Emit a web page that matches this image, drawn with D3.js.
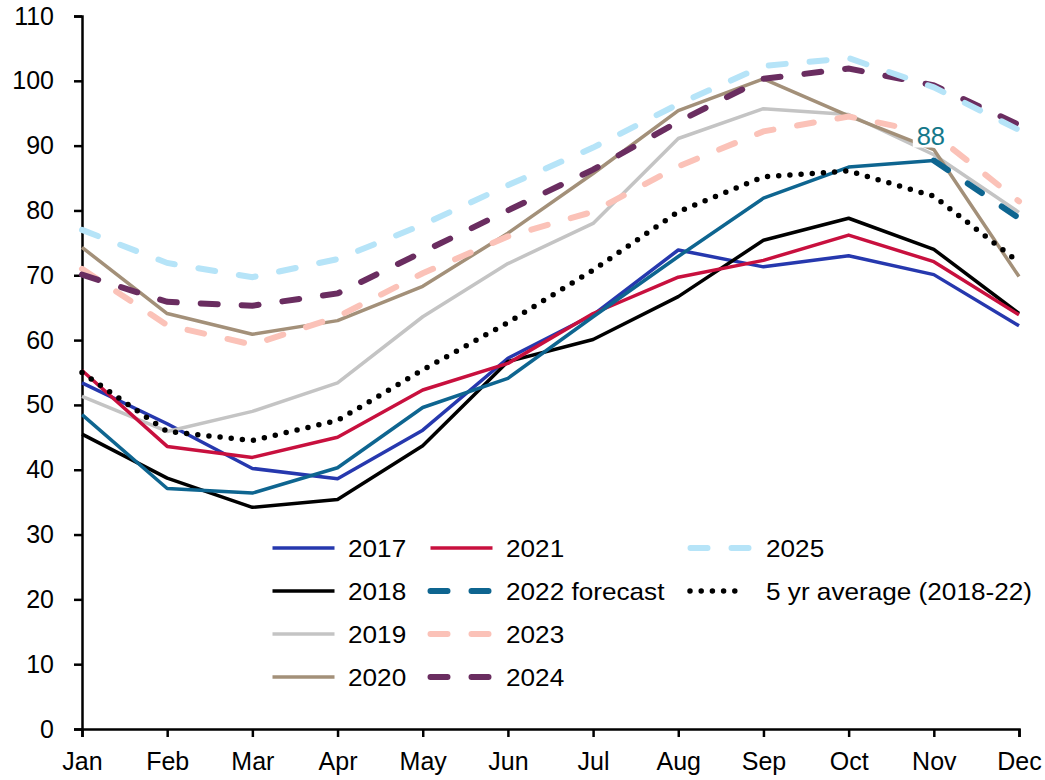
<!DOCTYPE html>
<html>
<head>
<meta charset="utf-8">
<script src="https://cdn.jsdelivr.net/npm/d3@7"></script>
<style>
  html, body { margin: 0; padding: 0; background: #fff; }
  svg text { font-family: "Liberation Sans", Arial, sans-serif; fill: #000; }
</style>
</head>
<body>
<svg id="chart" width="1045" height="780"></svg>
<script>
const months = ["Jan","Feb","Mar","Apr","May","Jun","Jul","Aug","Sep","Oct","Nov","Dec"];
const yTicks = [0,10,20,30,40,50,60,70,80,90,100,110];

const y2017 = [53.4, 47.1, 40.2, 38.6, 46.1, 57.2, 63.9, 73.9, 71.3, 73.0, 70.1, 62.2];
const y2018 = [45.5, 38.7, 34.2, 35.4, 43.7, 56.7, 60.1, 66.7, 75.4, 78.8, 74.0, 64.1];
const y2019 = [51.3, 45.9, 49.0, 53.4, 63.6, 71.8, 78.0, 91.1, 95.7, 94.8, 88.6, 79.7];
const y2020 = [74.3, 64.1, 60.9, 63.0, 68.3, 76.5, 85.7, 95.4, 100.3, 94.6, 89.4, 69.8];
const y2021 = [55.3, 43.6, 41.9, 45.0, 52.3, 56.4, 64.1, 69.7, 72.3, 76.2, 72.1, 63.9];
const y2022 = [48.5, 37.1, 36.4, 40.3, 49.6, 54.1, 63.6, 72.9, 81.9, 86.7, 87.7, null];
const y2022f = [null, null, null, null, null, null, null, null, null, null, 87.7, 78.8];
const y2023 = [71.0, 62.3, 59.3, 63.6, 70.3, 76.0, 79.8, 86.8, 92.2, 94.5, 91.8, 81.4];
const y2024 = [70.1, 65.9, 65.3, 67.2, 73.6, 80.0, 86.3, 93.7, 100.3, 101.9, 99.3, 93.2];
const y2025 = [77.0, 71.9, 69.7, 72.5, 77.8, 83.9, 89.7, 96.4, 102.3, 103.5, 99.0, 92.4];
const avg5 = [55.0, 45.9, 44.5, 47.6, 55.4, 62.7, 70.8, 79.8, 85.2, 86.1, 82.2, 72.0];
const labelValue = 88;

const series = [
  {name: "2017", values: y2017, color: "#2638AE", style: "solid", col: 0, row: 0},
  {name: "2018", values: y2018, color: "#000000", style: "solid", col: 0, row: 1},
  {name: "2019", values: y2019, color: "#C4C4C4", style: "solid", col: 0, row: 2},
  {name: "2020", values: y2020, color: "#A39079", style: "solid", col: 0, row: 3},
  {name: "2021", values: y2021, color: "#C8103E", style: "solid", col: 1, row: 0},
  {name: null,   values: y2022, color: "#0E6590", style: "solid"},
  {name: "2022 forecast", values: y2022f, color: "#0E6590", style: "dash", col: 1, row: 1},
  {name: "2023", values: y2023, color: "#FBC2B8", style: "dash", col: 1, row: 2},
  {name: "2024", values: y2024, color: "#6A2D60", style: "dash", col: 1, row: 3},
  {name: "2025", values: y2025, color: "#B6E4F8", style: "dash", col: 2, row: 0},
  {name: "5 yr average (2018-22)", values: avg5, color: "#000000", style: "dot", col: 2, row: 1}
];

const svg = d3.select("#chart");
const x = d3.scalePoint().domain(months).range([82, 1019]);
const y = d3.scaleLinear().domain([0, 110]).range([729, 16]);

function styleLine(sel, s) {
  sel.attr("fill", "none").attr("stroke", s.color);
  if (s.style === "solid") {
    sel.attr("stroke-width", 3.5).attr("stroke-linejoin", "round");
  } else if (s.style === "dash") {
    sel.attr("stroke-width", 6).attr("stroke-linecap", "round")
       .attr("stroke-dasharray", "17,24");
  } else {
    sel.attr("stroke-width", 5.5).attr("stroke-linecap", "round")
       .attr("stroke-dasharray", "0,11.2");
  }
}

// axes
const yAxis = d3.axisLeft(y).tickValues(yTicks).tickSize(8).tickPadding(20);
const xAxis = d3.axisBottom(x).tickSize(8).tickPadding(15);

const gy = svg.append("g").attr("transform", "translate(82,0)").call(yAxis);
const gx = svg.append("g").attr("transform", "translate(0,729)").call(xAxis);
[gx, gy].forEach(g => {
  g.select(".domain").attr("stroke", "#000").attr("stroke-width", 2.5);
  g.selectAll(".tick line").attr("stroke", "#000").attr("stroke-width", 2.5);
  g.selectAll(".tick text").attr("font-size", 25).attr("fill", "#000")
    .style("font-family", "'Liberation Sans', Arial, sans-serif");
});
gx.selectAll(".tick text").attr("dy", "0.71em");

// lines
const line = d3.line()
  .defined(d => d != null)
  .x((d, i) => x(months[i]))
  .y(d => y(d));

const gLines = svg.append("g");
series.forEach(s => {
  gLines.append("path").datum(s.values).attr("d", line).call(styleLine, s);
});

// data label
const li = 10;
const lx = x(months[li]) - 3, ly = y(y2022[li]) - 25;
svg.append("rect").attr("x", lx - 18).attr("y", ly - 13).attr("width", 35).attr("height", 25).attr("fill", "#fff");
svg.append("text").attr("x", lx).attr("y", ly + 9).attr("text-anchor", "middle")
  .attr("font-size", 25.5).style("fill", "#15788A").text(labelValue);

// legend
const colX = [271, 429, 689];
const colW = 65;
const rowY = [548, 591, 634, 677];
const gLeg = svg.append("g");
series.filter(s => s.name).forEach(s => {
  const x0 = colX[s.col], yy = rowY[s.row];
  const x1 = s.style === "dot" ? x0 + 1 : x0 + 1.5;
  const x2 = s.style === "dot" ? x0 + 55 : x0 + colW - 1.5;
  gLeg.append("line").attr("x1", x1).attr("x2", x2).attr("y1", yy).attr("y2", yy).call(styleLine, s);
  gLeg.append("text")
    .attr("transform", `translate(${x0 + colW + 12},${yy + 8.5}) scale(1.09,1)`)
    .attr("font-size", 24).text(s.name);
});
</script>
</body>
</html>
